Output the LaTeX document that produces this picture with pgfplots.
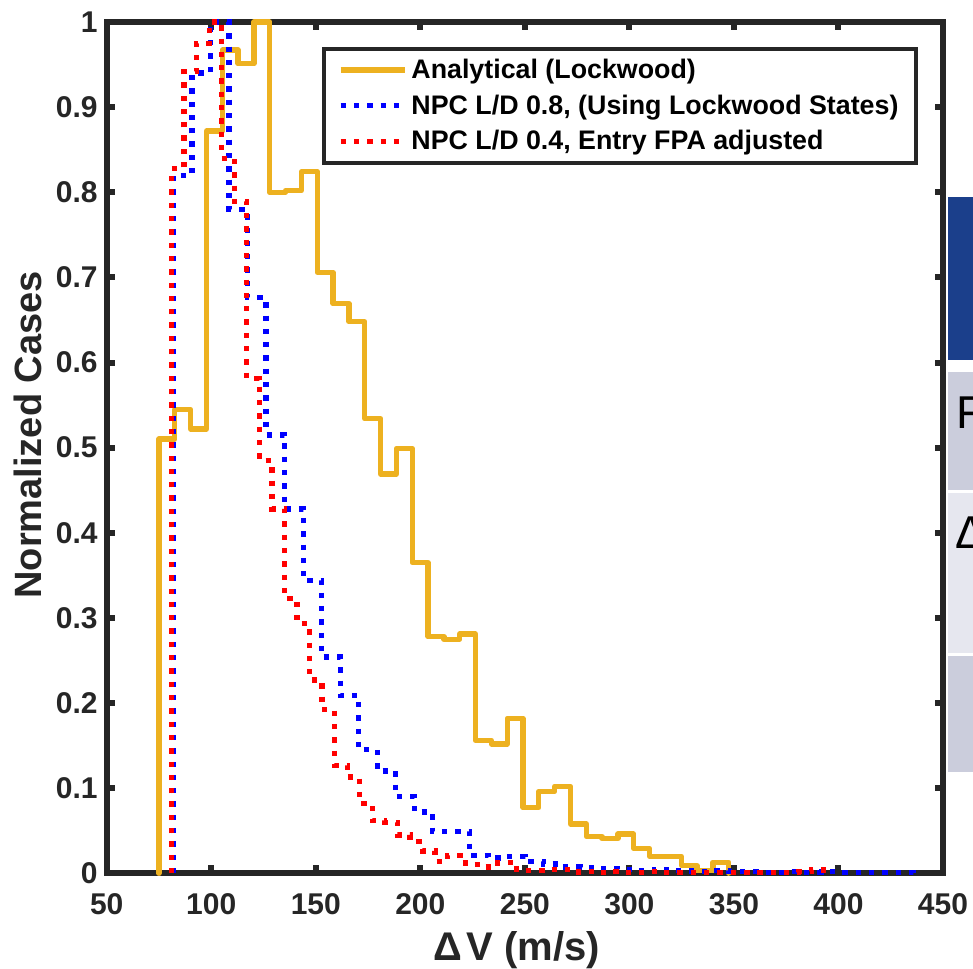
\documentclass[border=0pt]{standalone}
\usepackage{fontspec}
\setmainfont{Liberation Sans}
\usepackage{pgfplots}
\usepackage{pgfplotstable}
\pgfplotsset{compat=1.18}

\definecolor{mgold}{rgb}{0.929,0.694,0.125}
\definecolor{axgray}{rgb}{0.15,0.15,0.15}
\definecolor{slideblue}{HTML}{1B3F8B}
\definecolor{slidegrayA}{HTML}{CBCDDC}
\definecolor{slidegrayB}{HTML}{E6E7EF}

% left bin edge, normalized count (last row closes the outline)
\pgfplotstableread{
x y
75.00 0
75.00 0.510
82.57 0.545
90.14 0.522
97.71 0.872
105.28 0.967
112.85 0.951
120.42 1.000
127.99 0.800
135.56 0.802
143.13 0.824
150.70 0.706
158.27 0.669
165.84 0.648
173.41 0.534
180.98 0.469
188.55 0.499
196.12 0.365
203.69 0.278
211.26 0.275
218.83 0.281
226.40 0.156
233.97 0.152
241.54 0.182
249.11 0.077
256.68 0.096
264.25 0.102
271.82 0.058
279.39 0.043
286.96 0.041
294.53 0.046
302.10 0.029
309.67 0.020
317.24 0.020
324.81 0.009
332.38 0.003
339.95 0.013
347.52 0
}\analytical

\pgfplotstableread{
x y
82.00 0
82.00 0.820
90.85 0.940
99.70 1.000
108.55 0.780
117.40 0.676
126.25 0.515
135.10 0.428
143.95 0.344
152.80 0.254
161.65 0.209
170.50 0.145
179.35 0.120
188.20 0.090
197.05 0.072
205.90 0.049
214.75 0.049
223.60 0.021
232.45 0.018
241.30 0.020
250.15 0.014
259.00 0.011
267.85 0.0075
276.70 0.0067
285.55 0.0055
294.40 0.0043
303.25 0.003
312.10 0.0045
320.95 0.003
329.80 0.002
338.65 0.003
347.50 0.002
356.35 0.002
365.20 0.001
374.05 0.002
382.90 0.001
391.75 0.002
400.60 0.001
409.45 0.001
418.30 0.001
427.15 0.001
436.00 0
}\npcA

\pgfplotstableread{
x y
81 0
81 0.828
87 0.942
93 0.975
99 1.000
105 0.840
111 0.789
117 0.581
123 0.485
129 0.428
135 0.323
141 0.293
147 0.227
153 0.192
159 0.127
165 0.113
171 0.082
177 0.062
183 0.060
189 0.045
195 0.037
201 0.026
207 0.014
213 0.021
219 0.012
225 0.010
231 0.0075
237 0.013
243 0.005
249 0.0035
255 0.0035
261 0.0047
267 0.0047
273 0.0015
279 0.002
285 0.001
291 0.002
297 0.001
303 0.001
309 0.002
315 0.001
321 0.001
327 0.001
333 0.001
339 0.001
345 0.001
351 0.001
357 0.001
363 0.001
369 0.001
375 0.001
381 0.002
387 0.004
393 0
}\npcB

\begin{document}
\begin{tikzpicture}
\begin{axis}[
  name=ax,
  scale only axis, width=418pt, height=425.5pt,
  xmin=50, xmax=450, ymin=0, ymax=1,
  xtick={50,100,...,450},
  ytick={0,0.1,0.2,0.3,0.4,0.5,0.6,0.7,0.8,0.9,1},
  yticklabels={0,0.1,0.2,0.3,0.4,0.5,0.6,0.7,0.8,0.9,1},
  tick align=inside, major tick length=4.2pt,
  axis line style={axgray, line width=3pt},
  tick style={axgray, line width=3pt},
  clip=false,
  /pgf/number format/assume math mode=true,
  ticklabel style={font=\fontsize{15}{18}\selectfont\bfseries, text=axgray},
  xticklabel style={yshift=-6.5pt},
  yticklabel style={xshift=-1pt},
  xlabel={Δ\hspace{2pt}V (m/s)}, ylabel={Normalized Cases},
  xlabel style={font=\fontsize{20}{23}\selectfont\bfseries, text=axgray,
    xshift=-4pt, yshift=-1.5pt},
  ylabel style={font=\fontsize{19}{22}\selectfont\bfseries, text=axgray,
    at={(ticklabel cs:0.515)}},
  legend style={at={(axis cs:153,0.971)}, anchor=north west,
    draw=axgray, line width=2pt, inner xsep=7pt, inner ysep=3pt,
    font=\fontsize{13.4}{16}\selectfont\bfseries, row sep=2.75pt},
  legend cell align=left,
  legend image code/.code={\draw[#1, line cap=butt] (0pt,0pt) -- (32pt,0pt);},
]
\addplot[const plot, mgold, line width=2.65pt, line join=round, line cap=round]
  table[x=x, y=y] {\analytical};
\addplot[const plot, blue, line width=2.65pt, dash pattern=on 2.65pt off 4pt]
  table[x=x, y=y] {\npcA};
\addplot[const plot, red, line width=2.65pt, dash pattern=on 2.65pt off 4pt]
  table[x=x, y=y] {\npcB};
\legend{Analytical (Lockwood), {NPC L/D 0.8, (Using Lockwood States)}, {NPC L/D 0.4, Entry FPA adjusted}}
\end{axis}

% piece of the slide table that shows at the right edge
\fill[slideblue] ([shift={(2.5pt,-87.5pt)}]ax.north east) rectangle ([shift={(16pt,-169pt)}]ax.north east);
\fill[slidegrayA] ([shift={(2.5pt,-175pt)}]ax.north east) rectangle ([shift={(16pt,-234pt)}]ax.north east);
\fill[slidegrayB] ([shift={(2.5pt,-235.5pt)}]ax.north east) rectangle ([shift={(16pt,-315.5pt)}]ax.north east);
\fill[slidegrayA] ([shift={(2.5pt,-317pt)}]ax.north east) rectangle ([shift={(16pt,-375pt)}]ax.north east);
\node[anchor=base west, inner sep=0pt, font=\fontsize{23}{26}\selectfont] at ([shift={(6.5pt,-203pt)}]ax.north east) {F};
\node[anchor=base west, inner sep=0pt, font=\fontsize{23}{26}\selectfont] at ([shift={(6pt,-263pt)}]ax.north east) {Δ};

\pgfresetboundingbox
\path[use as bounding box] ([shift={(-53.35pt,-47.5pt)}]ax.south west) rectangle ([shift={(15pt,11pt)}]ax.north east);
\end{tikzpicture}
\end{document}
